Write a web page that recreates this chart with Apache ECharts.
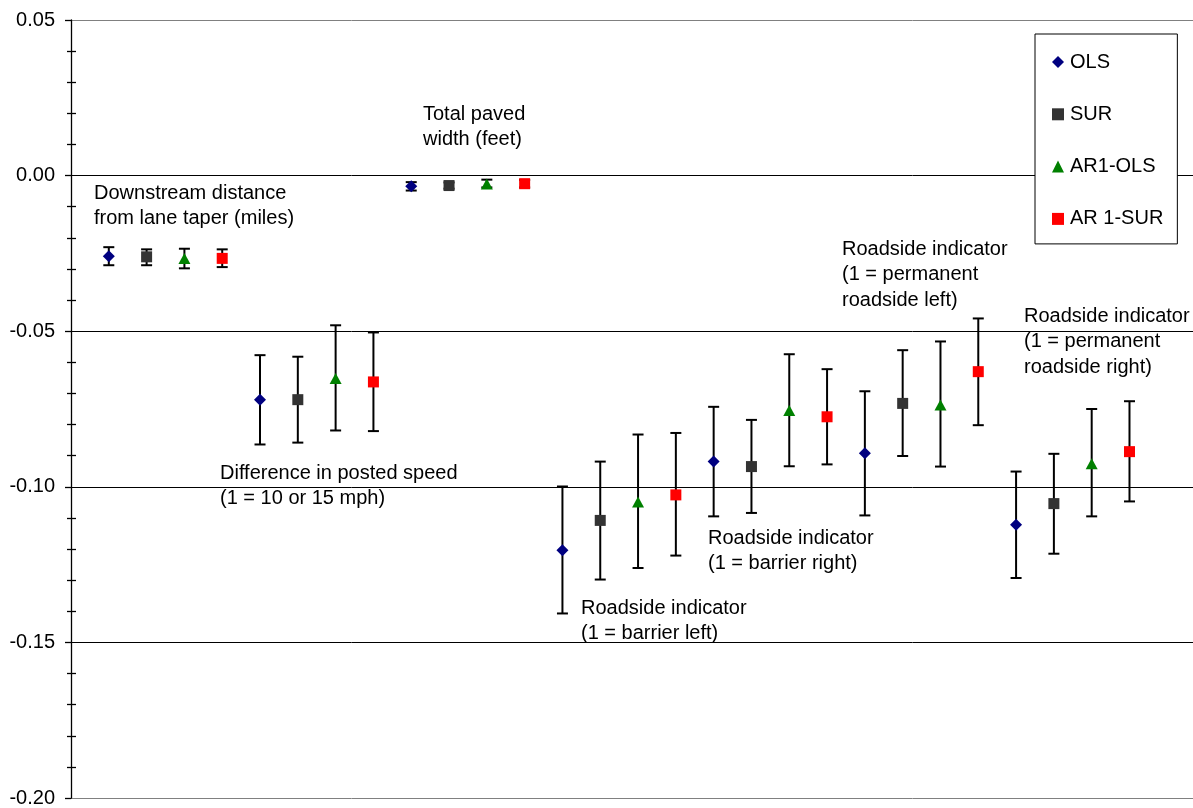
<!DOCTYPE html>
<html>
<head>
<meta charset="utf-8">
<script src="https://cdn.jsdelivr.net/npm/echarts@6/dist/echarts.min.js"></script>
<style>
html,body{margin:0;padding:0;background:#fff;}
#chart{width:1193px;height:808px;}
</style>
</head>
<body>
<div id="chart"></div>
<script>
// Category groups (4 estimators per group)
const groups = [
  'Downstream distance\nfrom lane taper (miles)',
  'Difference in posted speed\n(1 = 10 or 15 mph)',
  'Total paved\nwidth (feet)',
  'Roadside indicator\n(1 = barrier left)',
  'Roadside indicator\n(1 = barrier right)',
  'Roadside indicator\n(1 = permanent\nroadside left)',
  'Roadside indicator\n(1 = permanent\nroadside right)'
];
const seriesNames = ['OLS', 'SUR', 'AR1-OLS', 'AR 1-SUR'];

// Estimates and confidence bounds
const olsEst = [-0.0259, -0.0720, -0.0034, -0.1204, -0.0919, -0.0892, -0.1122];
const olsHi  = [-0.0230, -0.0577, -0.0021, -0.0999, -0.0743, -0.0693, -0.0951];
const olsLo  = [-0.0288, -0.0864, -0.0048, -0.1407, -0.1095, -0.1092, -0.1293];

const surEst = [-0.0261, -0.0720, -0.0032, -0.1108, -0.0935, -0.0732, -0.1054];
const surHi  = [-0.0237, -0.0582, -0.0022, -0.0919, -0.0785, -0.0561, -0.0894];
const surLo  = [-0.0288, -0.0858, -0.0042, -0.1298, -0.1084, -0.0901, -0.1215];

const ar1OlsEst = [-0.0266, -0.0652, -0.0027, -0.1049, -0.0755, -0.0737, -0.0926];
const ar1OlsHi  = [-0.0235, -0.0481, -0.0013, -0.0832, -0.0574, -0.0533, -0.0750];
const ar1OlsLo  = [-0.0298, -0.0819, -0.0038, -0.1261, -0.0934, -0.0935, -0.1095];

const ar1SurEst = [-0.0266, -0.0663, -0.0026, -0.1026, -0.0775, -0.0630, -0.0887];
const ar1SurHi  = [-0.0237, -0.0504, -0.0014, -0.0827, -0.0622, -0.0459, -0.0725];
const ar1SurLo  = [-0.0294, -0.0821, -0.0038, -0.1221, -0.0928, -0.0802, -0.1047];

const yMin = -0.20, yMax = 0.05, yStep = 0.05;

const FONT = "'Liberation Sans', Arial, sans-serif";
const FS = 20;

const estAll = [olsEst, surEst, ar1OlsEst, ar1SurEst];
const hiAll = [olsHi, surHi, ar1OlsHi, ar1SurHi];
const loAll = [olsLo, surLo, ar1OlsLo, ar1SurLo];
const colors = ['#000080', '#333333', '#008000', '#ff0000'];
const symbols = ['diamond', 'rect', 'triangle', 'rect'];
const sizes = [[12, 12], [11, 11], [12, 11], [11, 11]];

function xOf(g, s) { return g * 4 + s + 1; }

const series = [];
for (let s = 0; s < 4; s++) {
  series.push({
    name: seriesNames[s] + ' err',
    type: 'custom',
    z: 2,
    silent: true,
    data: groups.map((_, g) => [xOf(g, s), loAll[s][g], hiAll[s][g]]),
    renderItem: function (params, api) {
      const x = api.value(0);
      const pLo = api.coord([x, api.value(1)]);
      const pHi = api.coord([x, api.value(2)]);
      const hw = 5.5;
      const st = { stroke: '#000', lineWidth: 2 };
      return {
        type: 'group',
        children: [
          { type: 'line', shape: { x1: pLo[0], y1: pLo[1], x2: pHi[0], y2: pHi[1] }, style: st },
          { type: 'line', shape: { x1: pLo[0] - hw, y1: pLo[1], x2: pLo[0] + hw, y2: pLo[1] }, style: st },
          { type: 'line', shape: { x1: pHi[0] - hw, y1: pHi[1], x2: pHi[0] + hw, y2: pHi[1] }, style: st }
        ]
      };
    }
  });
}
for (let s = 0; s < 4; s++) {
  series.push({
    name: seriesNames[s],
    type: 'scatter',
    z: 5,
    symbol: symbols[s],
    symbolSize: sizes[s],
    itemStyle: { color: colors[s], opacity: 1 },
    data: groups.map((_, g) => [xOf(g, s), estAll[s][g]])
  });
}

// annotation placement (left x, first-line center y)
const notePos = [[94, 193], [220, 473], [423, 114.5], [581, 608], [708, 538], [842, 249.5], [1024, 316.5]];
const graphics = groups.map((txt, i) => ({
  type: 'text',
  left: notePos[i][0],
  top: notePos[i][1] - 12.6,
  z: 10,
  style: {
    text: txt,
    fill: '#000',
    font: FS + 'px ' + FONT,
    lineHeight: 25.3
  }
}));

const chart = echarts.init(document.getElementById('chart'), null, { renderer: 'canvas' });
chart.setOption({
  animation: false,
  backgroundColor: '#fff',
  grid: { left: 71, top: 20, right: 0, bottom: 8, containLabel: false },
  xAxis: {
    type: 'value', min: 0, max: 29.68, show: false,
    splitLine: { show: false }
  },
  yAxis: [
    {
      type: 'value', min: yMin, max: yMax, interval: yStep, position: 'left',
      axisLine: { show: true, lineStyle: { color: '#000', width: 1.3 } },
      axisTick: { show: true, length: 6, lineStyle: { color: '#000', width: 1.3 } },
      minorTick: { show: true, splitNumber: 5, length: 4, lineStyle: { color: '#000', width: 1.3 } },
      axisLabel: {
        color: '#000', fontFamily: FONT, fontSize: FS, margin: 16,
        formatter: v => v.toFixed(2)
      },
      splitLine: {
        show: true,
        lineStyle: { color: ['#808080', '#000', '#000', '#000', '#000', '#808080'], width: 1 }
      }
    },
    {
      type: 'value', min: yMin, max: yMax, interval: yStep, position: 'left', offset: -5,
      axisLine: { show: false },
      axisTick: { show: false },
      minorTick: { show: true, splitNumber: 5, length: 5, lineStyle: { color: '#000', width: 1.3 } },
      axisLabel: { show: false },
      splitLine: { show: false }
    }
  ],
  legend: {
    data: seriesNames.map(n => ({ name: n, itemStyle: { opacity: 1 } })),
    orient: 'vertical',
    left: 1035,
    top: 34,
    padding: [18, 14, 15, 17],
    itemWidth: 12,
    itemHeight: 12,
    itemGap: 32.3,
    borderColor: '#000',
    borderWidth: 1,
    backgroundColor: '#fff',
    textStyle: { color: '#000', fontFamily: FONT, fontSize: FS, lineHeight: 20, padding: [0, 0, 0, 1] },
    selectedMode: false,
    z: 20
  },
  graphic: graphics,
  series: series
});
</script>
</body>
</html>
